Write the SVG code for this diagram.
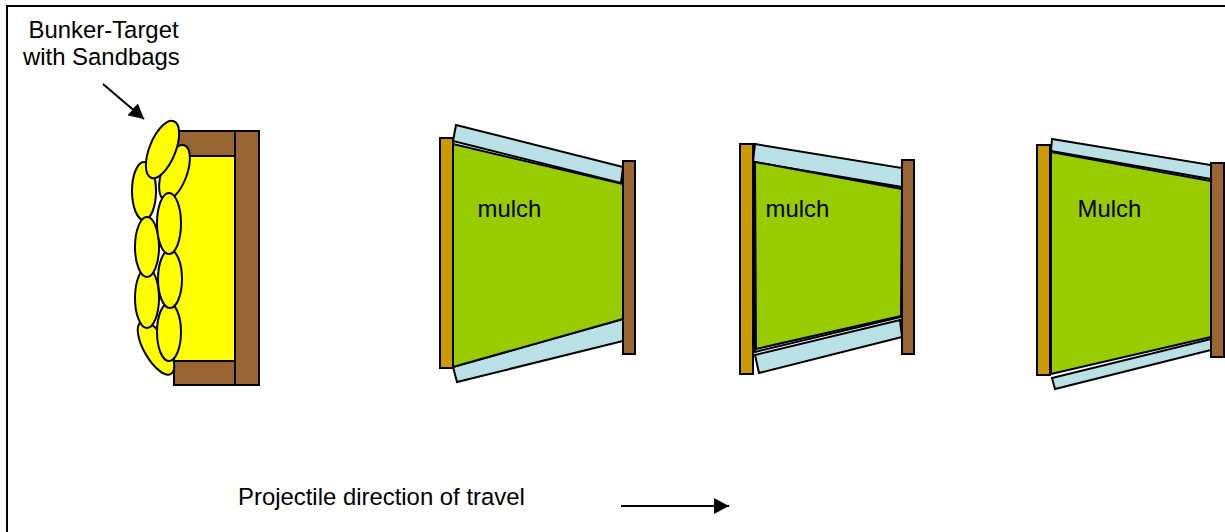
<svg xmlns="http://www.w3.org/2000/svg" width="1225" height="532" viewBox="0 0 1225 532">
<style>
.o{stroke:#000;stroke-width:2;stroke-linejoin:miter}
.t{font-family:"Liberation Sans",Arial,sans-serif;font-size:23.9px;fill:#000}
.y{fill:#ff0;stroke:#000;stroke-width:2}
.b{fill:#963}
.g{fill:#c90}
.l{fill:#b9e0e5}
.m{fill:#9c0}
</style>
<defs><marker id="ah" markerUnits="userSpaceOnUse" markerWidth="16" markerHeight="16" refX="15" refY="8" orient="auto"><path d="M0 0L15 8L0 16Z" fill="#000"/></marker></defs>
<rect width="1225" height="532" fill="#fff"/>
<path d="M7 532V6H1225" fill="none" stroke="#000" stroke-width="2"/>
<g id="bunker">
<rect class="o b" x="174" y="131" width="85" height="254"/>
<rect class="o" x="174" y="156" width="61" height="205" fill="#ff0"/>
<line class="o" x1="235" y1="131" x2="235" y2="385"/>
<ellipse class="y" cx="156" cy="348" rx="12" ry="30" transform="rotate(-30 156 348)"/>
<ellipse class="y" cx="174.500" cy="172.500" rx="12.500" ry="29" transform="rotate(20 174.500 172.500)"/>
<ellipse class="y" cx="144" cy="191" rx="12" ry="29"/>
<ellipse class="y" cx="162.500" cy="149.500" rx="13" ry="30.500" transform="rotate(22 162.500 149.500)"/>
<ellipse class="y" cx="147" cy="298" rx="12" ry="30"/>
<ellipse class="y" cx="147" cy="247" rx="12" ry="30"/>
<ellipse class="y" cx="169" cy="332" rx="12" ry="29"/>
<ellipse class="y" cx="170" cy="279" rx="12" ry="29"/>
<ellipse class="y" cx="169" cy="223.500" rx="12" ry="30.500"/>
</g>
<g id="panel-1">
<polygon class="o l" points="456,125 623,167 621,183 453,141"/>
<polygon class="o l" points="453,367 623,319 623,341 457,382"/>
<polygon class="o m" points="453,144 623,184 623,319 453,367"/>
<rect class="o g" x="440" y="138" width="13" height="230"/>
<rect class="o b" x="623" y="161" width="12" height="193"/>
<text class="t" x="477.500" y="217">mulch</text>
</g>
<g id="panel-2">
<polygon class="o l" points="755,144 902,168 902,187 753,162"/>
<polygon class="o l" points="755,355 900,320 902,337 759,373"/>
<polygon class="o" fill="#fff" points="755,162 902,189 901,317 755,352"/>
<polygon class="o m" points="755,162 902,189 901,316 756,349"/>
<rect class="o g" x="740" y="144" width="13" height="230"/>
<rect class="o b" x="902" y="160" width="12" height="194"/>
<text class="t" x="765.500" y="217">mulch</text>
</g>
<g id="panel-3">
<polygon class="o l" points="1052,139 1211,165 1211,179 1051,151"/>
<polygon class="o l" points="1052,378 1211,339 1211,350 1055,389"/>
<polygon class="o m" points="1051,152 1211,181 1211,337 1051,374"/>
<rect class="o g" x="1037" y="145" width="13" height="230"/>
<rect class="o b" x="1211" y="163" width="13" height="194"/>
<text class="t" x="1077.500" y="217">Mulch</text>
</g>
<g id="connectors" fill="none" stroke="#000" stroke-width="2">
<line x1="103" y1="84" x2="144" y2="119" marker-end="url(#ah)"/>
<line x1="621" y1="506" x2="729" y2="506" marker-end="url(#ah)"/>
</g>
<g id="labels">
<text class="t" x="28.500" y="38">Bunker-Target</text>
<text class="t" x="23" y="65">with Sandbags</text>
<text class="t" x="238" y="505">Projectile direction of travel</text>
</g>
</svg>
